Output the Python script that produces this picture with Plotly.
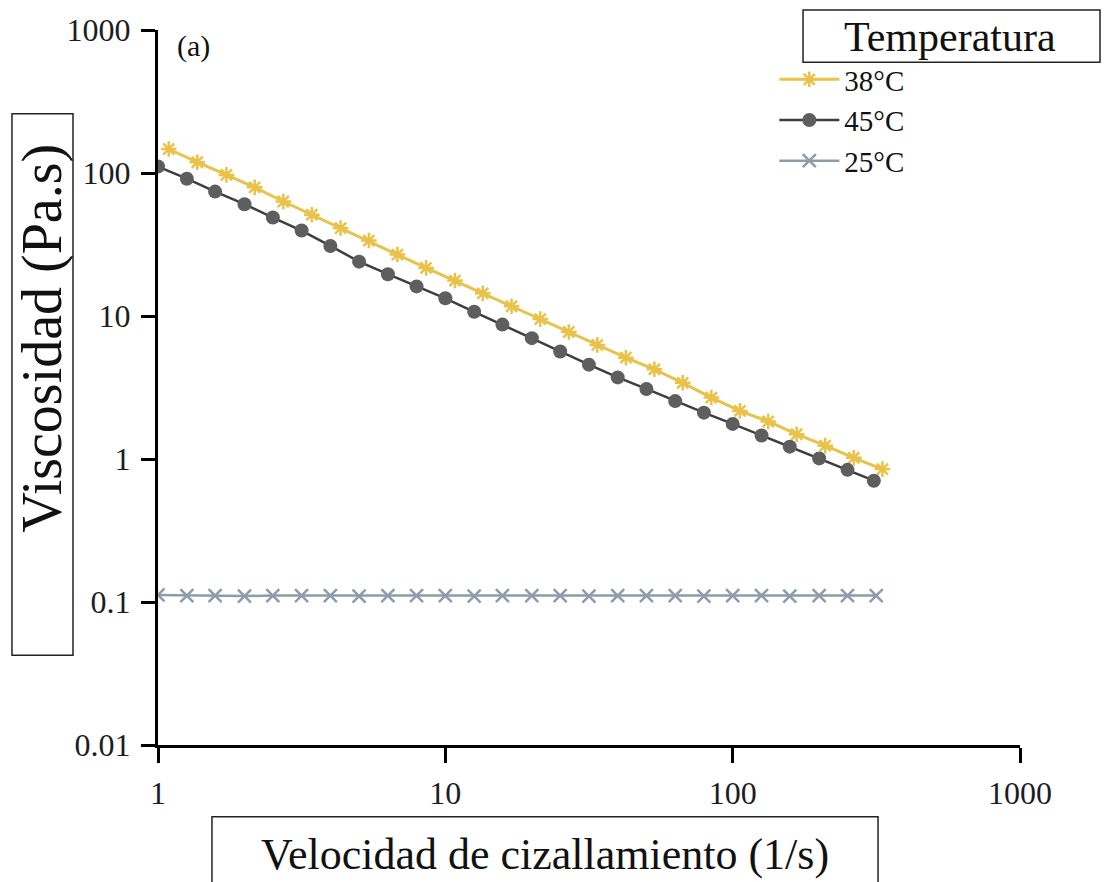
import plotly.graph_objects as go

# Shear rate (1/s) for each temperature run
rate_45 = [1.0, 1.26, 1.58, 2.0, 2.51, 3.16, 3.98, 5.01, 6.31, 7.94,
           10.0, 12.6, 15.8, 20.0, 25.1, 31.6, 39.8, 50.1, 63.1, 79.4,
           100, 126, 158, 200, 251, 310]
rate_38 = [1.09, 1.37, 1.73, 2.17, 2.73, 3.43, 4.32, 5.42, 6.81, 8.57,
           10.8, 13.5, 17.0, 21.4, 26.9, 33.8, 42.5, 53.4, 67.0, 84.3,
           106, 133, 167, 210, 264, 332]
rate_25 = [1.0, 1.26, 1.58, 2.0, 2.51, 3.16, 3.98, 5.01, 6.31, 7.94,
           10.0, 12.6, 15.8, 20.0, 25.1, 31.6, 39.8, 50.1, 63.1, 79.4,
           100, 126, 158, 200, 251, 316]

# Viscosity (Pa.s)
visc_38 = [147.2, 118.9, 97.0, 79.4, 63.2, 51.1, 41.2, 33.7, 26.9, 21.7,
           17.7, 14.4, 11.7, 9.51, 7.73, 6.28, 5.11, 4.24, 3.41, 2.69,
           2.17, 1.83, 1.49, 1.24, 1.02, 0.85]
visc_45 = [110.9, 91.2, 74.1, 60.5, 48.8, 39.6, 30.9, 24.0, 19.6, 16.1,
           13.3, 10.7, 8.71, 7.00, 5.65, 4.57, 3.72, 3.09, 2.54, 2.11,
           1.76, 1.46, 1.22, 1.01, 0.84, 0.705]
visc_25 = [0.112, 0.111, 0.111, 0.110, 0.111, 0.111, 0.111, 0.110, 0.111, 0.111,
           0.111, 0.110, 0.111, 0.111, 0.111, 0.110, 0.111, 0.111, 0.111, 0.110,
           0.111, 0.111, 0.110, 0.111, 0.111, 0.111]

x_ticks = [1, 10, 100, 1000]
y_ticks = [0.01, 0.1, 1, 10, 100, 1000]
y_tick_text = ["0.01", "0.1", "1", "10", "100", "1000"]

SERIF = "Liberation Serif, Times New Roman, serif"
GOLD = "#E9C24A"
DARK_LINE = "#3e3e3e"
DARK_MARK = "#5e5e5e"
BLUEGREY = "#8c9cab"
TEXT = "#111111"

fig = go.Figure()
fig.add_trace(go.Scatter(
    x=rate_38, y=visc_38, name="38°C", mode="lines+markers",
    line=dict(color=GOLD, width=3),
    marker=dict(symbol="asterisk-open", size=13, color=GOLD,
                line=dict(color=GOLD, width=2.5)),
))
fig.add_trace(go.Scatter(
    x=rate_45, y=visc_45, name="45°C", mode="lines+markers",
    line=dict(color=DARK_LINE, width=2.5),
    marker=dict(symbol="circle", size=14, color=DARK_MARK,
                line=dict(color=DARK_MARK, width=0)),
))
fig.add_trace(go.Scatter(
    x=rate_25, y=visc_25, name="25°C", mode="lines+markers",
    line=dict(color=BLUEGREY, width=2.5),
    marker=dict(symbol="x-thin-open", size=13, color=BLUEGREY,
                line=dict(color=BLUEGREY, width=2.5)),
))

axis_common = dict(
    showgrid=False, zeroline=False, showline=True,
    linecolor="black", linewidth=3,
    ticks="outside", tickcolor="black", tickwidth=3,
    tickfont=dict(family=SERIF, size=32, color="#1c1c28"),
)

fig.update_xaxes(
    type="log", range=[0, 3], tickvals=x_ticks,
    ticktext=[str(v) for v in x_ticks], ticklen=15,
    ticklabelstandoff=3, **axis_common,
)
fig.update_yaxes(
    type="log", range=[-2, 3], tickvals=y_ticks, ticktext=y_tick_text,
    ticklen=14, ticklabelstandoff=4, **axis_common,
)

# Framed axis titles and legend heading
boxes = [
    (-0.1694, 0.1255, -0.0986, 0.8828),   # y title frame
    (0.0626, -0.22, 0.8353, -0.1004),     # x title frame
    (0.7483, 0.955, 1.0928, 1.028),       # legend heading frame
]
for x0, y0, x1, y1 in boxes:
    fig.add_shape(type="rect", xref="paper", yref="paper",
                  x0=x0, y0=y0, x1=x1, y1=y1,
                  line=dict(color="#222222", width=1.5),
                  fillcolor="rgba(0,0,0,0)")

labels = [
    ("Viscosidad (Pa.s)", -0.1346, 0.570, -90, 56, "center"),
    ("Velocidad de cizallamiento (1/s)", 0.449, -0.1534, 0, 44, "center"),
    ("Temperatura", 0.9188, 0.9905, 0, 42, "center"),
    ("(a)", 0.0197, 0.9777, 0, 30, "left"),
]
for text, x, y, angle, size, xanchor in labels:
    fig.add_annotation(text=text, xref="paper", yref="paper", x=x, y=y,
                       xanchor=xanchor, yanchor="middle", textangle=angle,
                       showarrow=False,
                       font=dict(family=SERIF, size=size, color=TEXT))

fig.update_layout(
    width=1106, height=882,
    margin=dict(l=158, r=86, t=28, b=137),
    paper_bgcolor="white", plot_bgcolor="white",
    showlegend=True,
    legend=dict(
        x=0.715, y=0.9665, xanchor="left", yanchor="top",
        bgcolor="rgba(0,0,0,0)", borderwidth=0,
        font=dict(family=SERIF, size=29, color=TEXT),
        itemwidth=60, tracegroupgap=0,
    ),
)

fig.write_html("out.html")
